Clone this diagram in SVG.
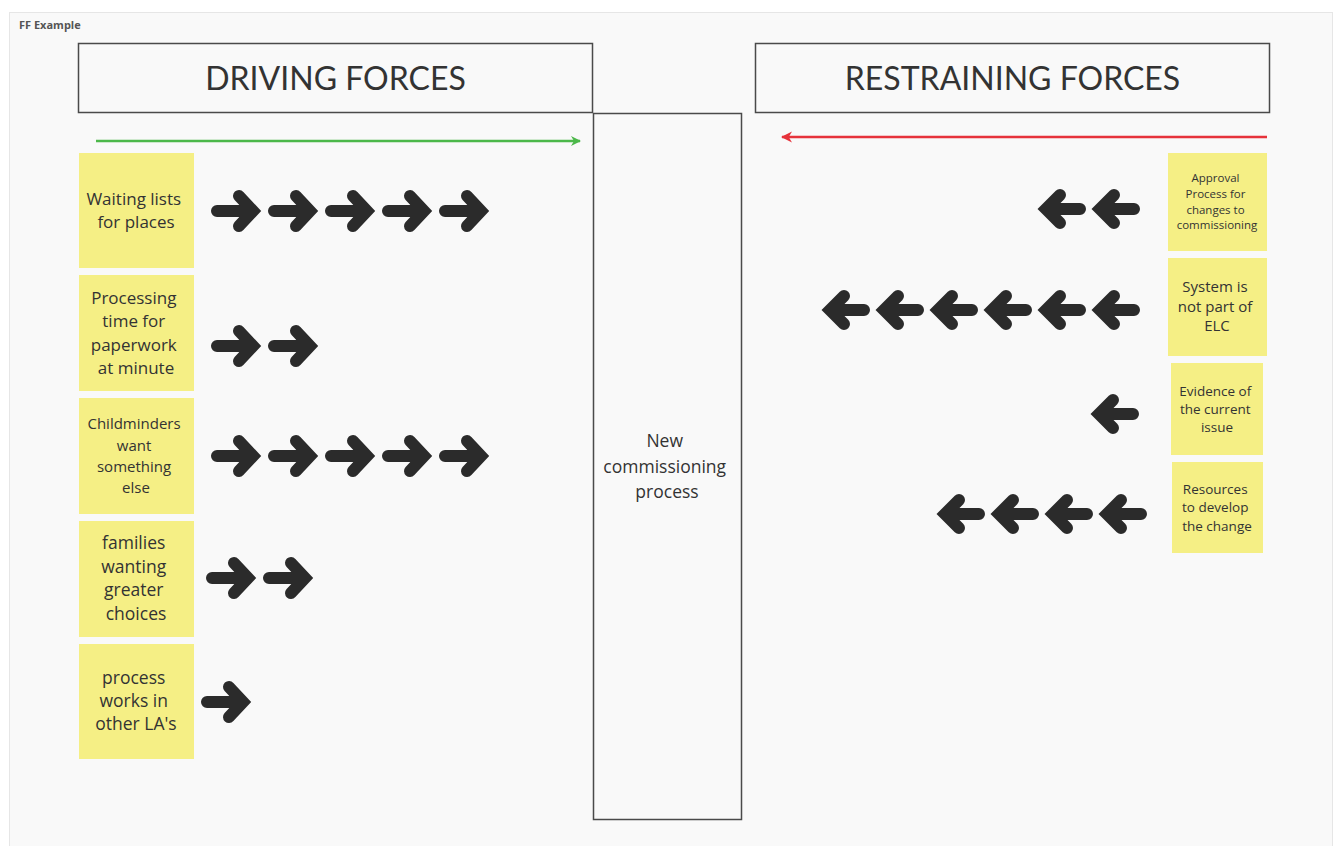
<svg xmlns="http://www.w3.org/2000/svg" xmlns:xlink="http://www.w3.org/1999/xlink" width="1334" height="846" viewBox="0 0 1334 846">
  <style>
    .frame { fill: #f9f9f9; stroke: #e6e6e6; stroke-width: 1; }
    .box { fill: none; stroke: #4a4a4a; stroke-width: 1.5; }
    .sticky { fill: #f5ef85; }
    .title { font-family: Lato, "Open Sans", sans-serif; font-size: 32px; fill: #333; text-anchor: middle; }
    .t { font-family: "Open Sans", "Noto Sans", sans-serif; fill: #333; text-anchor: middle; }
    .lbl { font-family: "Open Sans", "Noto Sans", sans-serif; font-size: 11px; font-weight: bold; fill: #555; }
    .fat { fill: none; stroke: #2b2b2b; stroke-width: 12; stroke-linecap: round; stroke-linejoin: miter; }
  </style>
  <defs>
    <!-- bold block arrows, origin at the tail end of the shaft -->
    <g id="fat">
      <path class="fat" d="M4,0 H38 M26,-15 L40,0 L26,15"/>
    </g>
    <g id="fatL">
      <path class="fat" d="M-4,0 H-36 M-24,-14 L-38,0 L-24,14"/>
    </g>
    <marker id="headG" viewBox="0 0 10 10" refX="9" refY="5" markerWidth="4" markerHeight="4" orient="auto">
      <path d="M0,0 L10,5 L0,10 L3,5 Z" fill="#4cb84a"/>
    </marker>
    <marker id="headR" viewBox="0 0 10 10" refX="9" refY="5" markerWidth="4.5" markerHeight="4.5" orient="auto">
      <path d="M0,0 L10,5 L0,10 L3,5 Z" fill="#e6333b"/>
    </marker>
  </defs>

  <rect width="1334" height="846" fill="#ffffff"/>
  <rect class="frame" x="9.5" y="12.5" width="1323" height="834"/>
  <text class="lbl" x="19" y="29">FF Example</text>

  <g id="driving-forces">
    <rect class="box" x="78.5" y="43.5" width="514" height="69"/>
    <text class="title" x="335.5" y="90">DRIVING FORCES</text>
  </g>
  <g id="restraining-forces">
    <rect class="box" x="755.5" y="43.5" width="514" height="69"/>
    <text class="title" x="1012.5" y="90">RESTRAINING FORCES</text>
  </g>
  <g id="new-process">
    <rect class="box" x="593.5" y="113.5" width="148" height="706"/>
    <text class="t" font-size="17.5">
      <tspan x="667" y="447">New</tspan>
      <tspan x="667" y="473">commissioning</tspan>
      <tspan x="667" y="498">process</tspan>
    </text>
  </g>

  <g id="connectors">
    <line x1="96" y1="141" x2="580" y2="141" stroke="#4cb84a" stroke-width="2.5" marker-end="url(#headG)"/>
    <line x1="1267" y1="137" x2="782" y2="137" stroke="#e6333b" stroke-width="2.5" marker-end="url(#headR)"/>
  </g>

  <!-- driving force stickies -->
  <g id="waiting-lists">
    <rect class="sticky" x="79" y="153" width="115" height="115"/>
    <text class="t" font-size="17">
      <tspan x="136" y="205">Waiting lists</tspan>
      <tspan x="136" y="228">for places</tspan>
    </text>
    <use xlink:href="#fat" x="213" y="211"/>
    <use xlink:href="#fat" x="270" y="211"/>
    <use xlink:href="#fat" x="327" y="211"/>
    <use xlink:href="#fat" x="384" y="211"/>
    <use xlink:href="#fat" x="441" y="211"/>
  </g>
  <g id="processing-time">
    <rect class="sticky" x="79" y="275" width="115" height="116"/>
    <text class="t" font-size="17">
      <tspan x="136" y="304">Processing</tspan>
      <tspan x="136" y="327">time for</tspan>
      <tspan x="136" y="351">paperwork</tspan>
      <tspan x="136" y="374">at minute</tspan>
    </text>
    <use xlink:href="#fat" x="213" y="346"/>
    <use xlink:href="#fat" x="270" y="346"/>
  </g>
  <g id="childminders">
    <rect class="sticky" x="79" y="398" width="115" height="116"/>
    <text class="t" font-size="15">
      <tspan x="136" y="429">Childminders</tspan>
      <tspan x="136" y="451">want</tspan>
      <tspan x="136" y="472">something</tspan>
      <tspan x="136" y="493">else</tspan>
    </text>
    <use xlink:href="#fat" x="213" y="456"/>
    <use xlink:href="#fat" x="270" y="456"/>
    <use xlink:href="#fat" x="327" y="456"/>
    <use xlink:href="#fat" x="384" y="456"/>
    <use xlink:href="#fat" x="441" y="456"/>
  </g>
  <g id="families">
    <rect class="sticky" x="79" y="521" width="115" height="116"/>
    <text class="t" font-size="17.5">
      <tspan x="136" y="549">families</tspan>
      <tspan x="136" y="573">wanting</tspan>
      <tspan x="136" y="596">greater</tspan>
      <tspan x="136" y="620">choices</tspan>
    </text>
    <use xlink:href="#fat" x="208" y="578"/>
    <use xlink:href="#fat" x="265" y="578"/>
  </g>
  <g id="other-las">
    <rect class="sticky" x="79" y="644" width="115" height="115"/>
    <text class="t" font-size="17.5">
      <tspan x="136" y="684">process</tspan>
      <tspan x="136" y="707">works in</tspan>
      <tspan x="136" y="730">other LA's</tspan>
    </text>
    <use xlink:href="#fat" x="203" y="702"/>
  </g>

  <!-- restraining force stickies -->
  <g id="approval-process">
    <rect class="sticky" x="1168" y="153" width="99" height="98"/>
    <text class="t" font-size="11.5">
      <tspan x="1217" y="182">Approval</tspan>
      <tspan x="1217" y="198">Process for</tspan>
      <tspan x="1217" y="214">changes to</tspan>
      <tspan x="1217" y="229">commissioning</tspan>
    </text>
    <use xlink:href="#fatL" x="1138" y="209"/>
    <use xlink:href="#fatL" x="1084" y="209"/>
  </g>
  <g id="not-part-of-elc">
    <rect class="sticky" x="1168" y="258" width="99" height="98"/>
    <text class="t" font-size="15">
      <tspan x="1217" y="292">System is</tspan>
      <tspan x="1217" y="312">not part of</tspan>
      <tspan x="1217" y="331">ELC</tspan>
    </text>
    <use xlink:href="#fatL" x="1138" y="310"/>
    <use xlink:href="#fatL" x="1084" y="310"/>
    <use xlink:href="#fatL" x="1030" y="310"/>
    <use xlink:href="#fatL" x="976" y="310"/>
    <use xlink:href="#fatL" x="922" y="310"/>
    <use xlink:href="#fatL" x="868" y="310"/>
  </g>
  <g id="evidence">
    <rect class="sticky" x="1171" y="363" width="92" height="92"/>
    <text class="t" font-size="13.5">
      <tspan x="1217" y="396">Evidence of</tspan>
      <tspan x="1217" y="414">the current</tspan>
      <tspan x="1217" y="432">issue</tspan>
    </text>
    <use xlink:href="#fatL" x="1137" y="414"/>
  </g>
  <g id="resources">
    <rect class="sticky" x="1172" y="462" width="91" height="91"/>
    <text class="t" font-size="13.5">
      <tspan x="1217" y="494">Resources</tspan>
      <tspan x="1217" y="512">to develop</tspan>
      <tspan x="1217" y="531">the change</tspan>
    </text>
    <use xlink:href="#fatL" x="1145" y="514"/>
    <use xlink:href="#fatL" x="1091" y="514"/>
    <use xlink:href="#fatL" x="1037" y="514"/>
    <use xlink:href="#fatL" x="983" y="514"/>
  </g>
</svg>
